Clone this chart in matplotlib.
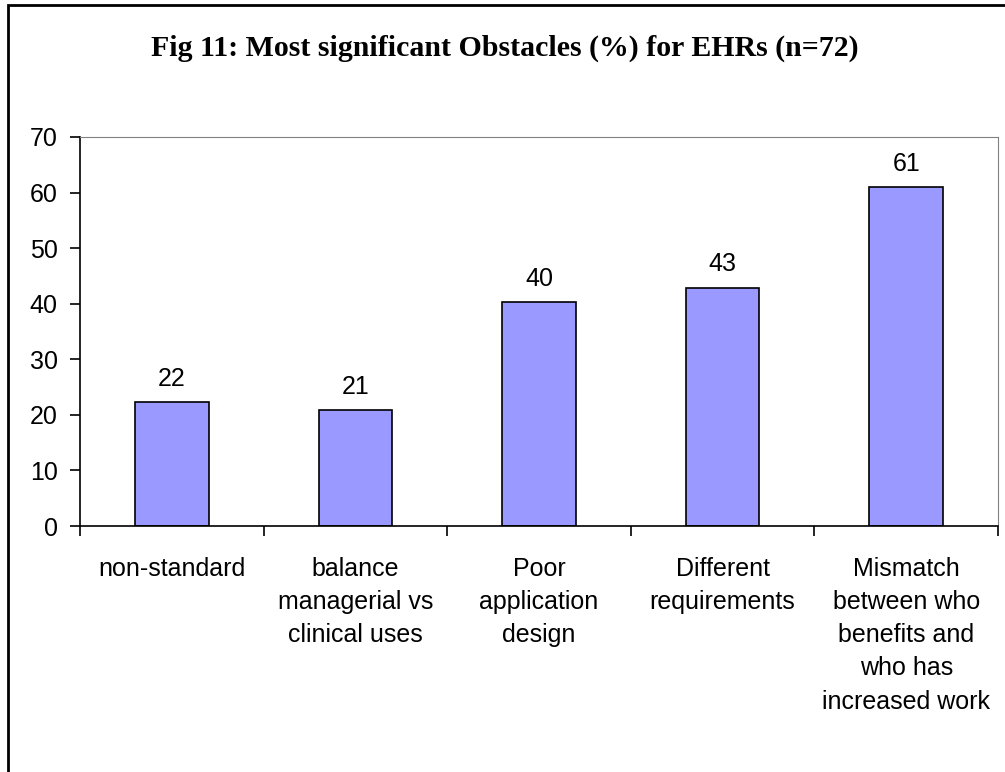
import matplotlib
matplotlib.use("Agg")
import matplotlib.pyplot as plt
import numpy as np

categories = ["non-standard", "balance\nmanagerial vs\nclinical uses", "Poor\napplication\ndesign",
              "Different\nrequirements", "Mismatch\nbetween who\nbenefits and\nwho has\nincreased work"]
values = [22.3, 20.9, 40.3, 42.9, 61.0]
labels = ["22", "21", "40", "43", "61"]

fig = plt.figure(figsize=(10.05, 7.72), dpi=100)
ax = fig.add_axes([80 / 1005, 1 - 526 / 772, (998 - 80) / 1005, (526 - 137) / 772])

x = np.arange(len(categories))
ax.bar(x, values, width=0.4, color="#9999FF", edgecolor="black", linewidth=1.2)
for xi, v, lab in zip(x, values, labels):
    ax.text(xi, v + 2.0, lab, ha="center", va="bottom", fontsize=18, family="Liberation Sans")

ax.set_xlim(-0.5, len(categories) - 0.5)
ax.set_ylim(0, 70)
ax.set_yticks(range(0, 71, 10))
ax.set_yticklabels([str(t) for t in range(0, 71, 10)], fontsize=18, family="Liberation Sans")
ax.set_xticks(np.arange(-0.5, len(categories), 1.0))
ax.set_xticklabels([])
ax.tick_params(axis="both", direction="out", length=7, width=1.2)
ax.tick_params(axis="y", pad=9)
for xi, c in zip(x, categories):
    ax.text(xi, -5.6, c, ha="center", va="top", fontsize=18, family="Liberation Sans",
            linespacing=1.48, transform=ax.transData)

ax.spines["left"].set_linewidth(1.2)
ax.spines["bottom"].set_linewidth(1.2)
ax.spines["top"].set_color("#808080")
ax.spines["right"].set_color("#808080")

fig.text(505 / 1005, 1 - 48 / 772, "Fig 11: Most significant Obstacles (%) for EHRs (n=72)",
         ha="center", va="center", fontsize=21.5, fontweight="bold", family="Liberation Serif")

# frame: only top and left edges fall inside the image
border = plt.Rectangle((8 / 1005, -0.05), 1.1, 1.05 - 5 / 772,
                       transform=fig.transFigure, fill=False, edgecolor="black", linewidth=2)
fig.patches.append(border)

fig.savefig("out.png", dpi=100)
